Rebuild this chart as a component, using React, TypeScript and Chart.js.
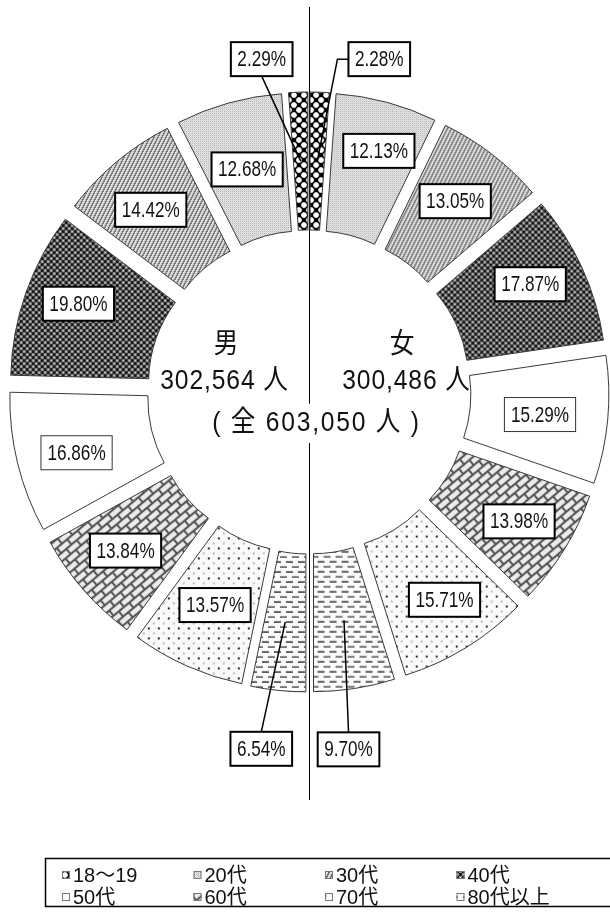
import { useEffect, useRef } from 'react';
import { Chart, registerables } from 'chart.js';

Chart.register(...registerables);

// ---- data ----
const categories = ['18～19', '20代', '30代', '40代', '50代', '60代', '70代', '80代以上'];
const femaleShares = [2.28, 12.13, 13.05, 17.87, 15.29, 13.98, 15.71, 9.7];
const maleShares = [2.29, 12.68, 14.42, 19.8, 16.86, 13.84, 13.57, 6.54];
const maleTitle = '男';
const femaleTitle = '女';
const maleTotal = '302,564 人';
const femaleTotal = '300,486 人';
const grandTotal = '( 全 603,050 人 )';

// ---- styling / placement (not data) ----
const EXPLODE = 30;
const femaleLabelShift = [[62, -102], [10, -18], [5, -8], [11, -12], [1, 1], [13.5, 8], [14.5, 11], [4.5, 129]];
const maleLabelShift = [[-39, -102], [0, 0], [-10, -5], [-12.5, -12], [-8, 6], [-10, 6], [0, 2], [-24, 127]];
const femaleLeader = ['elbowLeft', null, null, null, null, null, null, 'top'];
const maleLeader = ['bottom', null, null, null, null, null, null, 'top'];
const LABEL_FONT = '22px "Liberation Sans", "Noto Sans CJK JP", sans-serif';
const LABEL_SCALE = 0.78;
const CENTER_FONT = '28px "Liberation Sans", "Noto Sans CJK JP", sans-serif';
const CENTER_SCALE = 0.88;
const LEGEND_FONT = '20px "Liberation Sans", "Noto Sans CJK JP", sans-serif';

function grayTile(w: number, h: number, fn: (x: number, y: number) => number) {
  const c = document.createElement('canvas');
  c.width = w;
  c.height = h;
  const g = c.getContext('2d')!;
  const img = g.createImageData(w, h);
  for (let y = 0; y < h; y++) {
    for (let x = 0; x < w; x++) {
      const v = Math.max(0, Math.min(255, Math.round(fn(x, y))));
      const i = (y * w + x) * 4;
      img.data[i] = v;
      img.data[i + 1] = v;
      img.data[i + 2] = v;
      img.data[i + 3] = 255;
    }
  }
  g.putImageData(img, 0, 0);
  return c;
}

function buildPatterns(ctx: CanvasRenderingContext2D): (CanvasPattern | string)[] {
  const circles = [[0, 0], [10, 0], [0, 10], [10, 10], [5, 5]];
  const t1819 = grayTile(10, 10, (x, y) => {
    const px = x + 0.5, py = y + 0.5;
    let d = 99;
    for (const c of circles) d = Math.min(d, Math.hypot(px - c[0], py - c[1]));
    const t = Math.max(0, Math.min(1, (d - 2.4) / 0.8));
    return 255 * (1 - t);
  });
  const t20 = grayTile(4, 4, (x, y) => {
    if (x % 2 === 0 && y % 2 === 0) return 170;
    if (x % 2 === 1 && y % 2 === 1) return 205;
    return 240;
  });
  const t30 = grayTile(4, 8, (x, y) => (((2 * x + y) % 8) < 3 ? 105 : 222));
  const t40 = grayTile(6, 6, (x, y) => {
    const dark = (Math.floor(x / 3) + Math.floor(y / 3)) % 2 === 0;
    if (dark) return 28;
    if (x % 3 === 1 && y % 3 === 1) return 235;
    return 140;
  });
  const t70 = grayTile(10, 10, (x, y) => {
    if (x < 2 && y < 2) return 45;
    if (x >= 5 && x < 7 && y >= 5 && y < 7) return 190;
    return 250;
  });
  const t80 = grayTile(12, 10, (x, y) => {
    if ((y === 1 || y === 2) && x >= 1 && x <= 7) return y === 1 ? 130 : 70;
    if ((y === 6 || y === 7) && (x >= 7 || x <= 1)) return y === 6 ? 150 : 95;
    return 252;
  });
  // bricks for 60代
  const bw = 16, bh = 8;
  const bc = document.createElement('canvas');
  bc.width = bw * 2;
  bc.height = bh * 2;
  const bg = bc.getContext('2d')!;
  bg.fillStyle = '#ececec';
  bg.fillRect(0, 0, bc.width, bc.height);
  bg.strokeStyle = '#555';
  bg.lineWidth = 2.4;
  bg.beginPath();
  for (const yy of [0, bh, 2 * bh]) {
    bg.moveTo(0, yy);
    bg.lineTo(bc.width, yy);
  }
  for (const xx of [0, bw, 2 * bw]) {
    bg.moveTo(xx, 0);
    bg.lineTo(xx, bh);
  }
  for (const xx of [bw / 2, bw * 1.5]) {
    bg.moveTo(xx, bh);
    bg.lineTo(xx, 2 * bh);
  }
  bg.stroke();

  const mk = (c: HTMLCanvasElement) => ctx.createPattern(c, 'repeat')!;
  const p60 = mk(bc);
  try {
    p60.setTransform(new DOMMatrix().rotate(-40).scale(0.85));
  } catch (e) {
    /* ignore */
  }
  return [mk(t1819), mk(t20), mk(t30), mk(t40), '#ffffff', p60, mk(t70), mk(t80)];
}

export default function App() {
  const ref = useRef<HTMLCanvasElement>(null);

  useEffect(() => {
    const canvas = ref.current!;
    const prevMargin = document.body.style.margin;
    document.body.style.margin = '0';
    const ctx0 = canvas.getContext('2d')!;
    const pats = buildPatterns(ctx0);

    const values = [...femaleShares, ...maleShares.slice().reverse()];
    const colors = [...pats, ...pats.slice().reverse()];
    const labels = [
      ...categories.map((c) => `${femaleTitle} ${c}`),
      ...categories.slice().reverse().map((c) => `${maleTitle} ${c}`),
    ];

    const catOf = (i: number) => (i < 8 ? i : 15 - i);

    const linePlugin = {
      id: 'dividerLine',
      beforeDatasetsDraw(chart: any) {
        const ctx = chart.ctx as CanvasRenderingContext2D;
        const meta = chart.getDatasetMeta(0);
        const cx = meta.data[0].x;
        ctx.save();
        ctx.strokeStyle = '#000';
        ctx.lineWidth = 1;
        ctx.beginPath();
        ctx.moveTo(Math.round(cx) + 0.5, 7);
        ctx.lineTo(Math.round(cx) + 0.5, 800);
        ctx.stroke();
        ctx.restore();
      },
    };

    const explodePlugin = {
      id: 'explode',
      beforeDatasetDraw(chart: any, args: any) {
        const ctx = chart.ctx as CanvasRenderingContext2D;
        args.meta.data.forEach((arc: any) => {
          const p = arc.getProps(['startAngle', 'endAngle'], true);
          const mid = (p.startAngle + p.endAngle) / 2;
          ctx.save();
          ctx.translate(Math.cos(mid) * EXPLODE, Math.sin(mid) * EXPLODE);
          arc.draw(ctx, chart.chartArea);
          ctx.restore();
        });
        return false;
      },
    };

    const overlayPlugin = {
      id: 'overlay',
      afterDatasetsDraw(chart: any) {
        const ctx = chart.ctx as CanvasRenderingContext2D;
        const meta = chart.getDatasetMeta(0);
        let cx = 0, cy = 0;
        meta.data.forEach((el: any, i: number) => {
          const p = el.getProps(['x', 'y', 'startAngle', 'endAngle', 'innerRadius', 'outerRadius'], true);
          cx = p.x;
          cy = p.y;
          const mid = (p.startAngle + p.endAngle) / 2;
          const rm = (p.innerRadius + p.outerRadius) / 2 + EXPLODE;
          const ax = p.x + Math.cos(mid) * rm;
          const ay = p.y + Math.sin(mid) * rm;
          const female = i < 8;
          const cat = catOf(i);
          const shift = (female ? femaleLabelShift : maleLabelShift)[cat];
          const leader = (female ? femaleLeader : maleLeader)[cat];
          const val = (female ? femaleShares : maleShares)[cat];
          const text = val.toFixed(2) + '%';
          const bx = ax + shift[0];
          const by = ay + shift[1];
          ctx.save();
          ctx.font = LABEL_FONT;
          const tw = ctx.measureText(text).width * LABEL_SCALE;
          const w = tw + 13;
          const h = 34;
          if (leader) {
            ctx.strokeStyle = '#000';
            ctx.lineWidth = 1.5;
            ctx.beginPath();
            if (leader === 'bottom') {
              ctx.moveTo(bx, by + h / 2);
            } else if (leader === 'top') {
              ctx.moveTo(bx, by - h / 2);
            } else {
              ctx.moveTo(bx - w / 2, by);
              ctx.lineTo(bx - w / 2 - 11, by);
            }
            ctx.lineTo(ax, ay);
            ctx.stroke();
          }
          ctx.fillStyle = '#fff';
          ctx.fillRect(bx - w / 2, by - h / 2, w, h);
          ctx.lineWidth = cat === 4 ? 1 : 2;
          ctx.strokeStyle = cat === 4 ? '#333' : '#000';
          ctx.strokeRect(bx - w / 2, by - h / 2, w, h);
          ctx.translate(bx, by + 1);
          ctx.scale(LABEL_SCALE, 1);
          ctx.fillStyle = '#111';
          ctx.textAlign = 'center';
          ctx.textBaseline = 'middle';
          ctx.fillText(text, 0, 0);
          ctx.restore();
        });

        // center texts
        const drawCenter = (t: string, dx: number, dy: number, spacing = '0px') => {
          ctx.save();
          ctx.font = CENTER_FONT;
          (ctx as any).letterSpacing = spacing;
          ctx.translate(cx + dx, cy + dy);
          ctx.scale(CENTER_SCALE, 1);
          ctx.fillStyle = '#111';
          ctx.textAlign = 'center';
          ctx.textBaseline = 'middle';
          ctx.fillText(t, 0, 0);
          ctx.restore();
        };
        drawCenter(maleTitle, -83, -47);
        drawCenter(femaleTitle, 93, -47);
        drawCenter(maleTotal, -84.5, -11, '1px');
        drawCenter(femaleTotal, 97.5, -11, '1px');
        // white backing for the total line
        ctx.save();
        ctx.font = CENTER_FONT;
        (ctx as any).letterSpacing = '2px';
        const gw = ctx.measureText(grandTotal).width * CENTER_SCALE + 12;
        ctx.restore();
        ctx.save();
        ctx.fillStyle = '#fff';
        ctx.fillRect(cx + 7.5 - gw / 2, cy + 12, gw, 39);
        ctx.restore();
        drawCenter(grandTotal, 7.5, 31.5, '2px');
      },
      afterDraw(chart: any) {
        const ctx = chart.ctx as CanvasRenderingContext2D;
        const left = 45, top = 858, height = 48;
        ctx.save();
        ctx.strokeStyle = '#000';
        ctx.lineWidth = 1.5;
        ctx.strokeRect(left + 0.5, top + 0.5, 620 - left, height);
        ctx.font = LEGEND_FONT;
        ctx.textBaseline = 'middle';
        ctx.textAlign = 'left';
        categories.forEach((c, k) => {
          const col = k % 4;
          const row = Math.floor(k / 4);
          const mx = 62 + col * 131.5;
          const my = 875 + row * 22;
          ctx.fillStyle = pats[k] as any;
          ctx.fillRect(mx, my - 4, 8, 8);
          ctx.strokeStyle = '#777';
          ctx.lineWidth = 1;
          ctx.strokeRect(mx + 0.5, my - 3.5, 7, 7);
          ctx.fillStyle = '#111';
          ctx.fillText(c, mx + 11, my + 1);
        });
        ctx.restore();
      },
    };

    const chart = new Chart(canvas, {
      type: 'doughnut',
      data: {
        labels,
        datasets: [
          {
            data: values,
            backgroundColor: colors as any,
            borderColor: '#3a3a3a',
            borderWidth: 1,
          },
        ],
      },
      options: {
        responsive: false,
        devicePixelRatio: 1,
        animation: false,
        events: [],
        radius: 270,
        cutout: '48.9%',
        layout: { padding: { left: 8, right: 0, top: 0, bottom: 134 } },
        plugins: {
          legend: { display: false },
          tooltip: { enabled: false },
        },
      } as any,
      plugins: [linePlugin, explodePlugin, overlayPlugin],
    });

    return () => {
      chart.destroy();
      document.body.style.margin = prevMargin;
    };
  }, []);

  return (
    <div style={{ position: 'absolute', left: 0, top: 0, width: 610, height: 918 }}>
      <canvas ref={ref} width={610} height={918} style={{ display: 'block', width: 610, height: 918 }} />
    </div>
  );
}
